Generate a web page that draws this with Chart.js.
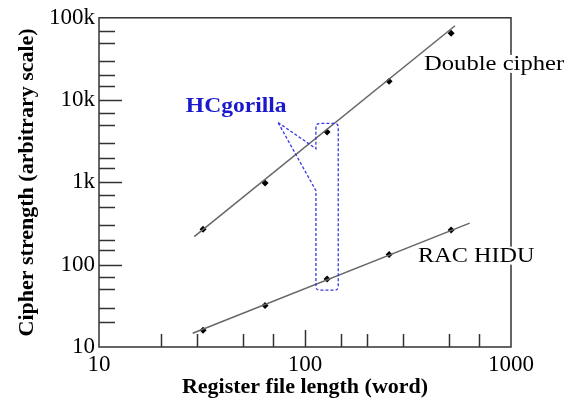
<!DOCTYPE html>
<html>
<head>
<meta charset="utf-8">
<script src="https://cdn.jsdelivr.net/npm/chart.js@4/dist/chart.umd.min.js"></script>
<style>
  html, body { margin: 0; padding: 0; background: #fff; }
</style>
</head>
<body>
<canvas id="cipherChart" width="570" height="398"></canvas>
<script>
// register file length (words) and measured cipher strength
const registerLength = [32, 64, 128, 256, 512];
const doubleCipher = [270, 980, 4100, 17000, 65000];
const racHidu = [16, 32, 67, 133, 264];

// end points of the fitted lines
const doubleFitX = [29, 535];
const doubleFitY = [219, 80000];
const racFitX = [28.5, 630];
const racFitY = [14.7, 320];

// tick labels
const xTickValues = [10, 100, 1000];
const xTickLabels = ["10", "100", "1000"];
const yTickValues = [10, 100, 1000, 10000, 100000];
const yTickLabels = ["10", "100", "1k", "10k", "100k"];

const serif = "'Liberation Serif', 'Times New Roman', serif";
const toXY = (xs, ys) => xs.map((x, i) => ({ x: x, y: ys[i] }));

function labelFor(values, labels) {
    return (v) => {
        const i = values.indexOf(v);
        return i >= 0 ? labels[i] : "";
    };
}

// keep only 1, 2, 3, 5, 7 of each decade
function thinLogTicks(scale) {
    scale.ticks = scale.ticks.filter((t) => {
        const exp = Math.floor(Math.log10(t.value) + 1e-9);
        const m = Math.round(t.value / Math.pow(10, exp));
        t.major = m === 1;
        return [1, 2, 3, 5, 7].includes(m);
    });
}

const framePlugin = {
    id: "frameAndNotes",
    afterDraw(chart) {
        const { ctx, chartArea: a, scales: { x, y } } = chart;
        ctx.save();

        // frame
        ctx.strokeStyle = "#333";
        ctx.lineWidth = 1.5;
        ctx.strokeRect(a.left, a.top, a.right - a.left, a.bottom - a.top);

        // inward ticks
        ctx.lineWidth = 1.5;
        ctx.beginPath();
        y.ticks.forEach((t) => {
            const py = Math.round(y.getPixelForValue(t.value)) + 0.5;
            if (py <= a.top + 1 || py >= a.bottom - 1) return;
            ctx.moveTo(a.left, py);
            ctx.lineTo(a.left + (t.major ? 23 : 16), py);
        });
        x.ticks.forEach((t) => {
            const px = Math.round(x.getPixelForValue(t.value)) + 0.5;
            if (px <= a.left + 1 || px >= a.right - 1) return;
            ctx.moveTo(px, a.bottom);
            ctx.lineTo(px, a.bottom - (t.major ? 17 : 13));
        });
        ctx.stroke();

        // HCgorilla callout (data coordinates)
        const P = (vx, vy) => [x.getPixelForValue(vx), y.getPixelForValue(vy)];
        const tip = P(74, 5340);
        const [bl, bt] = P(113, 5200);
        const [br, bb] = P(145, 49);
        const up = P(113, 2570);
        const lo = P(113, 794);
        const r = 4;
        ctx.strokeStyle = "#3838e0";
        ctx.lineWidth = 1.3;
        ctx.setLineDash([3, 2]);
        ctx.beginPath();
        ctx.moveTo(tip[0], tip[1]);
        ctx.lineTo(up[0], up[1]);
        ctx.lineTo(bl, bt + r);
        ctx.quadraticCurveTo(bl, bt, bl + r, bt);
        ctx.lineTo(br - r, bt);
        ctx.quadraticCurveTo(br, bt, br, bt + r);
        ctx.lineTo(br, bb - r);
        ctx.quadraticCurveTo(br, bb, br - r, bb);
        ctx.lineTo(bl + r, bb);
        ctx.quadraticCurveTo(bl, bb, bl, bb - r);
        ctx.lineTo(lo[0], lo[1]);
        ctx.lineTo(tip[0], tip[1]);
        ctx.stroke();
        ctx.setLineDash([]);

        // series notes
        const note = (text, vx, vy, font, color, stretch) => {
            const [px, py] = P(vx, vy);
            ctx.font = font;
            const w = ctx.measureText(text).width * stretch;
            ctx.fillStyle = "#fff";
            ctx.fillRect(px, py - 15, w, 18);
            ctx.save();
            ctx.translate(px, py);
            ctx.scale(stretch, 1);
            ctx.fillStyle = color;
            ctx.textBaseline = "alphabetic";
            ctx.fillText(text, 0, 0);
            ctx.restore();
        };
        note("Double cipher", 378, 23300, "22px " + serif, "#000", 1.12);
        note("RAC HIDU", 354, 109, "22px " + serif, "#000", 1.1);
        note("HCgorilla", 26.4, 7260, "bold 22px " + serif, "#1a1acc", 1.07);

        ctx.restore();
    }
};

new Chart(document.getElementById("cipherChart").getContext("2d"), {
    type: "scatter",
    data: {
        datasets: [
            {
                label: "Double cipher fit",
                data: toXY(doubleFitX, doubleFitY),
                showLine: true,
                borderColor: "#666",
                borderWidth: 1.5,
                pointRadius: 0
            },
            {
                label: "RAC HIDU fit",
                data: toXY(racFitX, racFitY),
                showLine: true,
                borderColor: "#666",
                borderWidth: 1.5,
                pointRadius: 0
            },
            {
                label: "Double cipher",
                data: toXY(registerLength, doubleCipher),
                pointStyle: "rectRot",
                pointRadius: 3.5,
                backgroundColor: "#000",
                borderWidth: 0
            },
            {
                label: "RAC HIDU",
                data: toXY(registerLength, racHidu),
                pointStyle: "rectRot",
                pointRadius: 3.5,
                backgroundColor: "#000",
                borderWidth: 0
            }
        ]
    },
    options: {
        responsive: false,
        animation: false,
        layout: { padding: { top: 17, right: 59, left: 0, bottom: 0 } },
        plugins: {
            legend: { display: false },
            tooltip: { enabled: false }
        },
        scales: {
            x: {
                type: "logarithmic",
                min: 10,
                max: 1000,
                afterBuildTicks: thinLogTicks,
                afterFit: (s) => { s.height = 51; },
                grid: { display: false, drawTicks: false },
                border: { display: false },
                ticks: {
                    autoSkip: false,
                    maxRotation: 0,
                    padding: 4,
                    color: "#000",
                    font: { family: serif, size: 23 },
                    callback: labelFor(xTickValues, xTickLabels)
                },
                title: {
                    display: true,
                    text: "Register file length (word)",
                    color: "#000",
                    font: { family: serif, size: 22, weight: "bold" },
                    padding: { top: 0, bottom: -3 }
                }
            },
            y: {
                type: "logarithmic",
                min: 10,
                max: 100000,
                afterBuildTicks: thinLogTicks,
                afterFit: (s) => { s.width = 99; },
                grid: { display: false, drawTicks: false },
                border: { display: false },
                ticks: {
                    autoSkip: false,
                    padding: 4,
                    color: "#000",
                    font: { family: serif, size: 23 },
                    callback: labelFor(yTickValues, yTickLabels)
                },
                title: {
                    display: true,
                    text: "Cipher strength (arbitrary scale)",
                    color: "#000",
                    font: { family: serif, size: 22, weight: "bold" },
                    padding: { top: 14, bottom: 0 }
                }
            }
        }
    },
    plugins: [framePlugin]
});
</script>
</body>
</html>
